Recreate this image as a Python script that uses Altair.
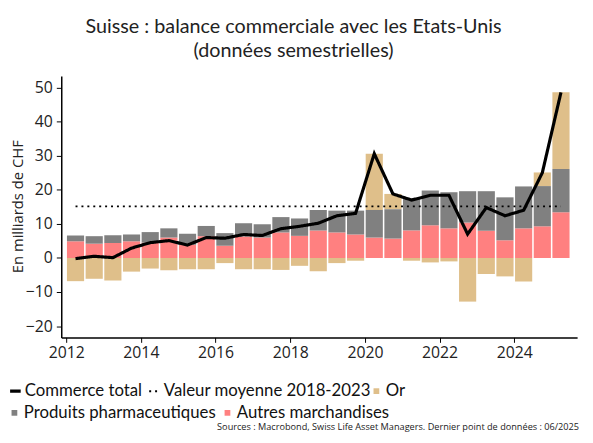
import altair as alt
import pandas as pd

# ---- data ----
semesters = [
    "2012-S1", "2012-S2", "2013-S1", "2013-S2", "2014-S1", "2014-S2",
    "2015-S1", "2015-S2", "2016-S1", "2016-S2", "2017-S1", "2017-S2",
    "2018-S1", "2018-S2", "2019-S1", "2019-S2", "2020-S1", "2020-S2",
    "2021-S1", "2021-S2", "2022-S1", "2022-S2", "2023-S1", "2023-S2",
    "2024-S1", "2024-S2", "2025-S1",
]
autres = [4.9, 4.2, 4.4, 4.9, 4.5, 6.0, 3.9, 6.4, 3.6, 6.3, 6.0, 7.5,
          6.5, 8.1, 7.5, 6.9, 6.0, 5.7, 8.1, 9.6, 8.7, 10.4, 8.0, 5.2,
          8.7, 9.3, 13.4]
pharma = [1.7, 2.2, 2.3, 2.0, 3.1, 2.7, 3.2, 3.0, 3.7, 3.9, 3.9, 4.5,
          5.1, 6.0, 6.4, 7.0, 8.1, 8.6, 9.4, 10.2, 10.6, 9.2, 11.6, 12.6,
          12.3, 11.8, 12.7]
gold = [-6.8, -6.1, -6.6, -4.0, -3.1, -3.6, -3.3, -3.3, -1.5, -3.3, -3.3, -3.5,
        -2.3, -3.9, -1.5, -0.8, 16.5, 4.5, -0.8, -1.3, -1.0, -12.8, -4.7, -5.4,
        -6.9, 4.0, 22.5]
total = [-0.2, 0.5, 0.1, 2.9, 4.5, 5.1, 3.8, 6.0, 5.8, 6.9, 6.6, 8.6,
         9.3, 10.2, 12.4, 13.1, 30.6, 18.8, 17.0, 18.4, 18.4, 7.0, 14.8, 12.4,
         14.0, 25.0, 48.6]
mean_value = 15.15  # Valeur moyenne 2018-2023

line_names = ["Commerce total", "Valeur moyenne 2018-2023"]
gold_name = ["Or"]
bar_names = ["Produits pharmaceutiques", "Autres marchandises"]
gold_color = ["#DFBF8A"]
bar_colors = ["#808080", "#FF8080"]

x_ticks = [2012, 2014, 2016, 2018, 2020, 2022, 2024]
y_ticks = [-20, -10, 0, 10, 20, 30, 40, 50]

title_lines = ["Suisse : balance commerciale avec les Etats-Unis",
               "(données semestrielles)"]
y_title = "En milliards de CHF"
source_text = ("Sources : Macrobond, Swiss Life Asset Managers. "
               "Dernier point de données : 06/2025")


def center(s):
    y, h = s.split("-S")
    return int(y) + 0.25 + 0.5 * (int(h) - 1)


xs = [center(s) for s in semesters]

rows = []
for i, s in enumerate(semesters):
    rows.append({"x": xs[i], "series": "Autres marchandises", "value": autres[i], "ord": 0})
    rows.append({"x": xs[i], "series": "Produits pharmaceutiques", "value": pharma[i], "ord": 1})
    rows.append({"x": xs[i], "series": "Or", "value": gold[i], "ord": 2})
bars_df = pd.DataFrame(rows)
line_df = pd.DataFrame({"x": xs, "value": total, "series": "Commerce total"})
mean_df = pd.DataFrame({"x": [xs[0]], "x2": [xs[-1]], "value": [mean_value],
                        "series": ["Valeur moyenne 2018-2023"]})
src_df = pd.DataFrame({"text": [source_text]})

common_legend = dict(
    title=None, orient="none", direction="horizontal", gridAlign="none",
    padding=0, rowPadding=4, labelOffset=1,
    labelFont="Lato", labelFontSize=17, labelColor="#111111",
    labelLimit=400,
)

line_legend = alt.Legend(legendX=-55, legendY=311, columns=2, columnPadding=3,
                         symbolSize=115, symbolStrokeColor="#000000",
                         **common_legend)
gold_legend = alt.Legend(legendX=311, legendY=311, columns=1,
                         symbolType="square", symbolSize=34, **common_legend)
bar_legend = alt.Legend(legendX=-56, legendY=333, columns=2, columnPadding=3,
                        symbolType="square", symbolSize=34, **common_legend)

x_enc = alt.X("x:Q",
              scale=alt.Scale(domain=[2012, 2025.55], nice=False, zero=False),
              axis=alt.Axis(values=x_ticks, format="d", title=None))
y_scale = alt.Scale(domain=[-23.3, 53.4], nice=False, zero=False)
y_axis = alt.Axis(values=y_ticks, title=y_title, labelPadding=4,
                  titleX=-44, titleY=132, titleBaseline="middle",
                  titleAlign="center", titleAngle=270, titleFontSize=15)

stacked = alt.Chart(bars_df).transform_stack(
    stack="value", groupby=["x"], as_=["y0", "y1"],
    sort=[alt.SortField("ord", order="ascending")], offset="zero",
)

gold_bars = stacked.transform_filter("datum.series == 'Or'").mark_bar(size=17.4).encode(
    x=x_enc,
    y=alt.Y("y0:Q", scale=y_scale, axis=y_axis, title=y_title),
    y2="y1:Q",
    fill=alt.Fill("series:N", scale=alt.Scale(domain=gold_name, range=gold_color),
                  legend=gold_legend),
)

other_bars = stacked.transform_filter("datum.series != 'Or'").mark_bar(size=17.4).encode(
    x=x_enc,
    y=alt.Y("y0:Q", scale=y_scale, axis=y_axis, title=y_title),
    y2="y1:Q",
    color=alt.Color("series:N", scale=alt.Scale(domain=bar_names, range=bar_colors),
                    legend=bar_legend),
)

dash_enc = alt.StrokeDash("series:N",
                          scale=alt.Scale(domain=line_names, range=[[1, 0], [2, 4]]),
                          legend=line_legend)
width_enc = alt.StrokeWidth("series:N",
                            scale=alt.Scale(type="ordinal", domain=line_names, range=[3.2, 2]),
                            legend=line_legend)

mean_rule = alt.Chart(mean_df).mark_rule(color="#000000").encode(
    x=x_enc, x2="x2:Q",
    y=alt.Y("value:Q", scale=y_scale, axis=y_axis, title=y_title),
    strokeDash=dash_enc, strokeWidth=width_enc,
)

line = alt.Chart(line_df).mark_line(color="#000000").encode(
    x=x_enc,
    y=alt.Y("value:Q", scale=y_scale, axis=y_axis, title=y_title),
    strokeDash=dash_enc, strokeWidth=width_enc,
)

source = alt.Chart(src_df).mark_text(
    align="left", baseline="alphabetic", font="Open Sans", fontSize=9.3,
    color="#222222",
).encode(x=alt.value(158), y=alt.value(359), text="text:N")

chart = alt.layer(gold_bars, other_bars, mean_rule, line, source).properties(
    width=523, height=265,
    autosize=alt.AutoSizeParams(type="none"),
    padding={"left": 54, "top": 66, "right": 8, "bottom": 96},
    title=alt.TitleParams(
        text=title_lines, font="Lato", fontSize=20, fontWeight="normal",
        color="#222222", anchor="middle", dx=-26, offset=15, lineHeight=25,
    ),
).configure_view(strokeWidth=0).configure_axis(
    grid=False, domainColor="#000000", domainWidth=1.5, tickColor="#000000",
    tickSize=5, labelFont="Open Sans", labelFontSize=16, labelColor="#222222",
    titleFont="Open Sans", titleFontSize=16, titleFontWeight="normal",
    titleColor="#222222",
)

chart.save("out.html", embed_options={"renderer": "svg", "actions": False})
